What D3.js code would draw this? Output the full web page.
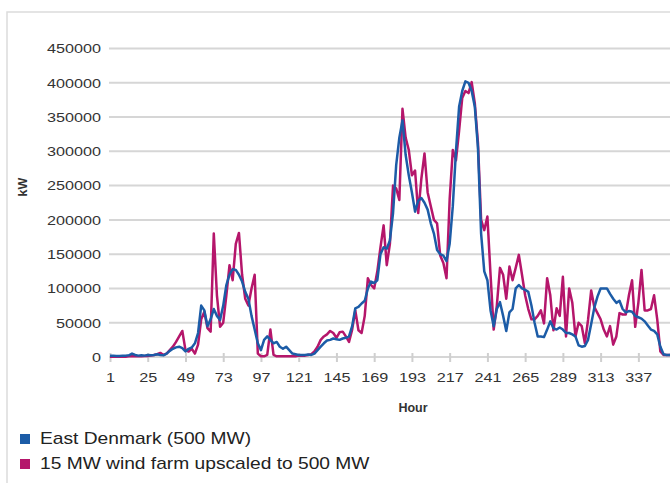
<!DOCTYPE html>
<html>
<head>
<meta charset="utf-8">
<script src="https://cdn.jsdelivr.net/npm/d3@7"></script>
<style>
  body { margin: 0; background: #fff; }
  text { font-family: "Liberation Sans", Arial, sans-serif; fill: #333; }
</style>
</head>
<body>
<svg width="670" height="483"></svg>
<script>
const width = 670;
const height = 483;

// hours sampled every 2 hours (1, 3, 5 ... 359)
const hours = d3.range(1, 360, 2);

// East Denmark (500 MW), kW
const eastDenmark = [
  2000, 2000, 1500, 1500, 2000, 2000, 2500, 5000, 3000, 2000, 2500, 2000,
  3000, 2500, 3000, 4000, 3000, 2500, 5000, 9000, 12000, 14000, 15000, 13000,
  8000, 12000, 14000, 20000, 35000, 75000, 68000, 45000, 55000, 70000, 60000, 54000,
  75000, 105000, 120000, 128000, 127000, 120000, 110000, 95000, 85000, 60000, 40000, 20000,
  10000, 25000, 30000, 25000, 20000, 22000, 15000, 12000, 15000, 10000, 5000, 4000,
  3000, 3000, 3000, 3500, 3000, 5000, 10000, 15000, 20000, 24000, 25000, 27000,
  26000, 25000, 27000, 28000, 30000, 45000, 71000, 73000, 78000, 82000, 100000, 110000,
  108000, 112000, 150000, 160000, 158000, 170000, 210000, 280000, 320000, 345000, 295000, 265000,
  240000, 212000, 228000, 232000, 225000, 215000, 195000, 180000, 156000, 150000, 148000, 140000,
  165000, 220000, 300000, 365000, 388000, 402000, 400000, 388000, 365000, 305000, 180000, 125000,
  112000, 68000, 45000, 70000, 80000, 60000, 38000, 65000, 70000, 100000, 105000, 100000,
  98000, 95000, 75000, 50000, 30000, 30000, 29000, 40000, 52000, 42000, 40000, 43000,
  40000, 35000, 35000, 33000, 30000, 17000, 15000, 16000, 25000, 48000, 72000, 88000,
  100000, 100000, 100000, 92000, 85000, 79000, 82000, 70000, 65000, 67000, 66000, 60000,
  58000, 56000, 52000, 46000, 40000, 38000, 33000, 15000, 4000, 3000, 3000, 4000
];

// 15 MW wind farm upscaled to 500 MW, kW
const windFarm = [
  500, 500, 500, 500, 500, 500, 1000, 1000, 1000, 1000, 1000, 1500,
  1500, 2000, 3000, 4000, 6000, 3000, 5000, 10000, 15000, 22000, 30000, 38000,
  10000, 8000, 12000, 5000, 18000, 55000, 66000, 42000, 37000, 180000, 90000, 44000,
  50000, 90000, 134000, 112000, 165000, 181000, 120000, 85000, 75000, 100000, 120000, 5000,
  1000, 1000, 3000, 40000, 3000, 1000, 1000, 1000, 1000, 1000, 1000, 1000,
  2000, 2000, 2000, 3000, 4000, 8000, 15000, 25000, 30000, 33000, 38000, 35000,
  28000, 36000, 37000, 30000, 22000, 40000, 68000, 39000, 35000, 60000, 115000, 105000,
  100000, 125000, 160000, 192000, 134000, 165000, 250000, 246000, 229000, 362000, 320000, 302000,
  265000, 272000, 210000, 260000, 297000, 240000, 220000, 200000, 195000, 148000, 137000, 115000,
  230000, 302000, 287000, 330000, 378000, 388000, 385000, 401000, 370000, 312000, 200000, 185000,
  205000, 120000, 40000, 75000, 130000, 120000, 85000, 132000, 112000, 130000, 149000, 120000,
  90000, 70000, 55000, 55000, 60000, 68000, 49000, 115000, 90000, 39000, 71000, 60000,
  117000, 30000, 100000, 79000, 30000, 50000, 45000, 20000, 54000, 97000, 73000, 64000,
  55000, 40000, 30000, 45000, 18000, 30000, 64000, 62000, 62000, 90000, 112000, 44000,
  79000, 127000, 68000, 68000, 70000, 90000, 55000, 8000, 3000, 3000, 3000, 3000
];

const yTicks = [0, 50000, 100000, 150000, 200000, 250000, 300000, 350000, 400000, 450000];
const xTicks = [1, 25, 49, 73, 97, 121, 145, 169, 193, 217, 241, 265, 289, 313, 337];
const seriesNames = ["East Denmark (500 MW)", "15 MW wind farm upscaled to 500 MW"];
const colors = ["#1c5ca7", "#b5166b"];

const svg = d3.select("svg");

// scales
const x = d3.scaleLinear().domain([1, 360]).range([110, 110 + 359 * 1.5725]);
const y = d3.scaleLinear().domain([0, 450000]).range([357, 48.5]);

// outer frame (top and left edges visible)
svg.append("path")
  .attr("d", `M7,${height} V12 H${width}`)
  .attr("fill", "none")
  .attr("stroke", "#dcdcdc")
  .attr("stroke-width", 1.5);

// gridlines
svg.append("g")
  .selectAll("line")
  .data(yTicks)
  .enter()
  .append("line")
  .attr("x1", 109)
  .attr("x2", width)
  .attr("y1", d => y(d))
  .attr("y2", d => y(d))
  .attr("stroke", "#d6d6d6")
  .attr("stroke-width", 2);

// y axis labels
const yAxis = svg.append("g")
  .attr("transform", "translate(109,0)")
  .call(d3.axisLeft(y).tickValues(yTicks).tickFormat(d3.format("d")).tickSize(0).tickPadding(0));
yAxis.select(".domain").remove();
yAxis.selectAll("text")
  .attr("x", -8 / 1.2)
  .attr("transform", "scale(1.2,1)")
  .style("font-size", "13.5px")
  .style("fill", "#333");

// x axis
const xAxis = svg.append("g")
  .attr("transform", `translate(0,${y(0)})`)
  .call(d3.axisBottom(x).tickValues(xTicks).tickFormat(d3.format("d")).tickSize(5));
xAxis.select(".domain").remove();
xAxis.selectAll(".tick line")
  .attr("y1", -4)
  .attr("y2", 5)
  .attr("stroke", "#cfcfcf")
  .attr("stroke-width", 2);
xAxis.selectAll("text")
  .attr("y", 15)
  .attr("transform", "scale(1.2,1)")
  .style("font-size", "13.5px")
  .style("fill", "#333");

// axis titles
svg.append("text")
  .attr("x", 413)
  .attr("y", 412)
  .attr("text-anchor", "middle")
  .style("font-size", "12.5px")
  .style("font-weight", "bold")
  .text("Hour");

svg.append("text")
  .attr("transform", "translate(27,187) rotate(-90)")
  .attr("text-anchor", "middle")
  .style("font-size", "12.5px")
  .style("font-weight", "bold")
  .text("kW");

// lines (wind farm underneath, East Denmark on top)
const line = d3.line()
  .x((d, i) => x(hours[i]))
  .y(d => y(d));

[windFarm, eastDenmark].forEach((series, k) => {
  svg.append("path")
    .datum(series)
    .attr("d", line)
    .attr("fill", "none")
    .attr("stroke", k === 0 ? colors[1] : colors[0])
    .attr("stroke-width", 2.5)
    .attr("stroke-linejoin", "round");
});

// legend
const legend = svg.append("g")
  .selectAll("g")
  .data(seriesNames)
  .enter()
  .append("g")
  .attr("transform", (d, i) => `translate(20,${434 + i * 25})`);

legend.append("rect")
  .attr("width", 10)
  .attr("height", 10)
  .attr("fill", (d, i) => colors[i]);

legend.append("text")
  .attr("transform", "translate(20,9.5) scale(1.2,1)")
  .style("font-size", "16px")
  .style("fill", "#222")
  .text(d => d);
</script>
</body>
</html>
